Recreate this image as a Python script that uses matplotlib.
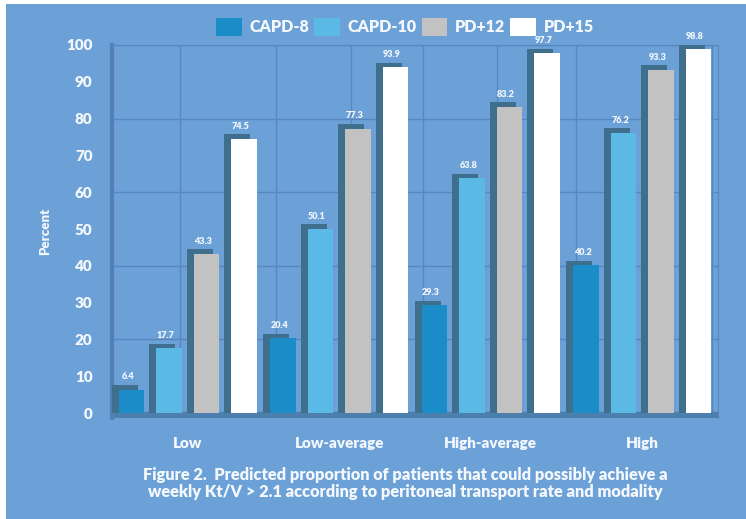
import numpy as np
import matplotlib
matplotlib.use("Agg")
import matplotlib.pyplot as plt
from matplotlib.patches import Patch, Rectangle

# rate groups and modality series
groups = ["Low", "Low-average", "High-average", "High"]
series = ["CAPD-8", "CAPD-10", "PD+12", "PD+15"]
capd8 = [6.4, 20.4, 29.3, 40.2]
capd10 = [17.7, 50.1, 63.8, 76.2]
pd12 = [43.3, 77.3, 83.2, 93.3]
pd15 = [74.5, 93.9, 97.7, 98.8]
values = [capd8, capd10, pd12, pd15]
colors = ["#1a8dc9", "#5bb9e6", "#c2c2c2", "#ffffff"]

bg = "#6ca1d8"
side = "#3f6f8c"
txt = "#f4f8fc"
plt.rcParams["font.family"] = ["Lato", "DejaVu Sans"]
plt.rcParams["font.weight"] = "bold"

fig = plt.figure(figsize=(7.46, 5.19), dpi=100)
fig.patch.set_facecolor("white")
# blue panel, thin white strip on the left and top
fig.patches.append(Rectangle((6 / 746, 0), 1, 1 - 4 / 519, transform=fig.transFigure,
                             facecolor=bg, edgecolor="none", zorder=-5))

ax = fig.add_axes([112 / 746, 1 - 417.5 / 519, 606 / 746, 372.5 / 519])
ax.set_facecolor(bg)

x = np.arange(len(groups))
pitch = 0.2475
width = 0.17
dx, dy = 0.045, 1.2   # depth offset of the bar sides

for i, (vals, col) in enumerate(zip(values, colors)):
    pos = x + (i - 1.5) * pitch
    v = np.array(vals)
    ax.bar(pos - dx, v + dy, width=width, bottom=0, color=side, zorder=3)
    ax.bar(pos, v, width=width, bottom=0, color=col, zorder=4)
    for p, val in zip(pos, v):
        ax.text(p - dx / 2, val + 2.2, f"{val:.1f}", ha="center", va="bottom",
                fontsize=6.5, color=txt, fontweight="heavy", zorder=5)

# floor strip under the bars
ax.axhspan(-1.2, 0.3, color="#4d7fae", zorder=2)

ax.set_xlim(-0.5, 3.5)
ax.set_ylim(-1.2, 100)
ax.set_yticks(np.arange(0, 101, 10))
ax.set_yticklabels([str(t) for t in range(0, 101, 10)])
ax.set_xticks(x)
ax.set_xticklabels(groups)
ax.tick_params(axis="both", length=0, colors=txt, labelsize=11)
ax.tick_params(axis="y", pad=14)
ax.tick_params(axis="x", pad=14)
for lbl in ax.get_xticklabels() + ax.get_yticklabels():
    lbl.set_fontweight("heavy")

for yv in range(20, 101, 20):
    ax.axhline(yv, color="#5887bf", lw=1, zorder=1)
for xv in [-0.05, 0.58, 1.08, 1.55, 2.04, 2.56, 3.46]:
    ax.axvline(xv, color="#5887bf", lw=1, zorder=1)

for s in ["top", "right"]:
    ax.spines[s].set_color("#5887bf")
ax.spines["left"].set_color("#5580b5")
ax.spines["left"].set_linewidth(3)
ax.spines["bottom"].set_visible(False)

ax.set_ylabel("Percent", color=txt, fontsize=9.5, fontweight="heavy", labelpad=11)

handles = [Patch(facecolor=c, edgecolor="none") for c in colors]
leg = fig.legend(handles, series, loc="center", bbox_to_anchor=(405 / 746, 1 - 27 / 519),
                 ncol=4, frameon=False, fontsize=11.5, handlelength=1.6, handleheight=1.3,
                 columnspacing=0.3, handletextpad=0.5, labelcolor=txt)
for t in leg.get_texts():
    t.set_fontweight("heavy")

fig.text(405 / 746, 1 - 475 / 519,
         "Figure 2.  Predicted proportion of patients that could possibly achieve a",
         ha="center", va="center", fontsize=11.8, color=txt, fontweight="heavy")
fig.text(405 / 746, 1 - 492 / 519,
         "weekly Kt/V > 2.1 according to peritoneal transport rate and modality",
         ha="center", va="center", fontsize=11.8, color=txt, fontweight="heavy")

fig.savefig("out.png", dpi=100, facecolor=fig.get_facecolor())
